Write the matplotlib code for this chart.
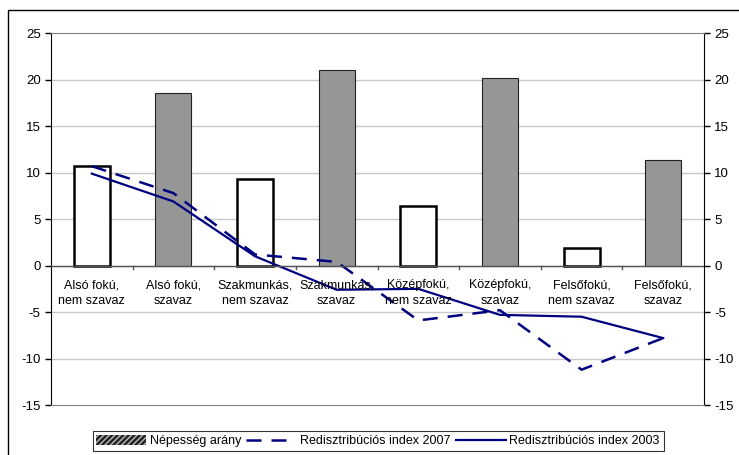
import matplotlib
matplotlib.use('Agg')
import matplotlib.pyplot as plt
from matplotlib.patches import Patch, Rectangle
from matplotlib.lines import Line2D
import numpy as np

plt.rcParams['font.family'] = ['Liberation Sans', 'DejaVu Sans']
plt.rcParams['font.size'] = 9
plt.rcParams['axes.unicode_minus'] = False
plt.rcParams['hatch.color'] = '#bbbbbb'

# data
categories = ['Alsó fokú,\nnem szavaz', 'Alsó fokú,\nszavaz',
              'Szakmunkás,\nnem szavaz', 'Szakmunkás,\nszavaz',
              'Középfokú,\nnem szavaz', 'Középfokú,\nszavaz',
              'Felsőfokú,\nnem szavaz', 'Felsőfokú,\nszavaz']
nepesseg = [10.7, 18.6, 9.3, 21.1, 6.4, 20.2, 1.9, 11.4]
index_2007 = [10.7, 7.8, 1.2, 0.4, -5.9, -4.8, -11.2, -7.8]
index_2003 = [9.9, 6.9, 1.0, -2.6, -2.5, -5.3, -5.5, -7.8]

fig = plt.figure(figsize=(7.39, 4.55), dpi=100)
ax = fig.add_axes([51/739, 1-405/455, 653/739, (405-33.3)/455])

# outer chart frame (runs off the right and bottom edge)
fig.patches.append(Rectangle((8/739, -0.05), 1.1, 1-10/455+0.05,
                             transform=fig.transFigure, fill=False,
                             edgecolor='black', linewidth=1.0))

x = np.arange(len(categories))

# gridlines
for yv in range(-10, 25, 5):
    ax.axhline(yv, color='#c8c8c8', linewidth=1, zorder=0)

for i, v in enumerate(nepesseg):
    if i % 2 == 0:
        ax.bar(x[i], v, width=0.44, color='white', edgecolor='black',
               linewidth=1.8, zorder=2)
    else:
        ax.bar(x[i], v, width=0.44, color='#969696', edgecolor='#222222',
               linewidth=0.8, zorder=2)

ax.plot(x, index_2007, color='#000080', linewidth=1.8,
        dashes=(6, 4), zorder=3)
ax.plot(x, index_2003, color='#000080', linewidth=1.6, zorder=3)

ax.set_xlim(-0.5, len(categories) - 0.5)
ax.set_ylim(-15, 25)
ax.set_yticks(range(-15, 30, 5))

# zero axis with ticks between categories
ax.axhline(0, color='#555555', linewidth=1, zorder=4)
for b in np.arange(0.5, len(categories) - 0.5, 1):
    ax.plot([b, b], [0, -0.35], color='#555555', linewidth=1, zorder=4)
for i, lab in enumerate(categories):
    ax.text(x[i], -1.45, lab, ha='center', va='top', fontsize=9,
            linespacing=1.45, zorder=5)

ax.set_xticks([])
ax.spines['top'].set_color('#808080')
ax.spines['bottom'].set_color('#808080')
ax.spines['left'].set_color('black')
ax.spines['right'].set_color('black')
ax.tick_params(axis='y', direction='out', length=4, labelsize=9.5,
               right=True, labelright=True, width=1)

handles = [Patch(facecolor='#222222', edgecolor='#bbbbbb', hatch='//////',
                 linewidth=0),
           Line2D([], [], color='#000080', linewidth=1.8, dashes=(6, 4)),
           Line2D([], [], color='#000080', linewidth=1.6)]
labels = ['Népesség arány', 'Redisztribúciós index 2007',
          'Redisztribúciós index 2003']
leg = fig.legend(handles, labels, loc='center', ncol=3,
                 bbox_to_anchor=(378/739, 1-441/455), frameon=True,
                 fancybox=False, edgecolor='black', fontsize=9,
                 handlelength=4.0, handletextpad=0.3, columnspacing=0.4,
                 borderpad=0.3, handleheight=0.8)
leg.get_frame().set_linewidth(0.8)

fig.savefig('out.png', dpi=100)
